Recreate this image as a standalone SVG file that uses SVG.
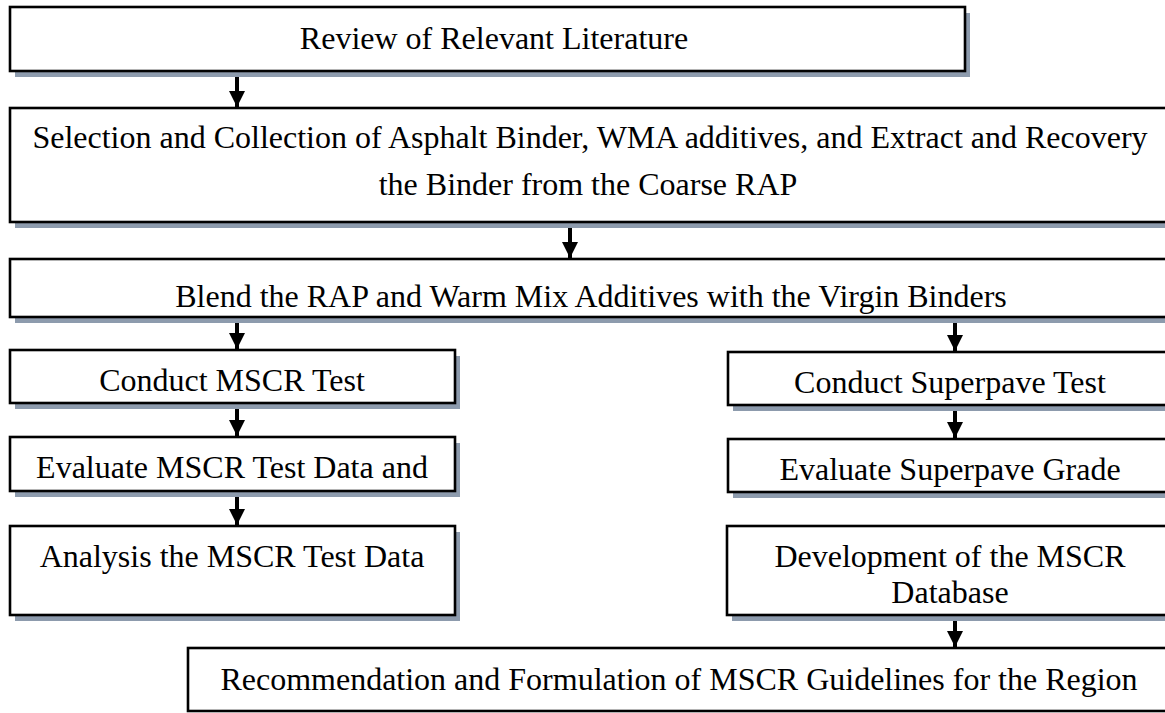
<svg xmlns="http://www.w3.org/2000/svg" width="1165" height="713" viewBox="0 0 1165 713">
  <defs>
    <style>
      .shadow { fill: #8d9bad; }
      .box { fill: #ffffff; stroke: #000000; stroke-width: 2.6; }
      .label { font-family: 'Liberation Serif', 'Times New Roman', Times, serif; font-size: 32px; fill: #000000; text-anchor: middle; }
      .link { stroke: #000000; stroke-width: 4; fill: none; marker-end: url(#arrowhead); }
    </style>
    <marker id="arrowhead" markerUnits="userSpaceOnUse" markerWidth="16" markerHeight="16" viewBox="0 0 16 16" refX="16" refY="8" orient="auto">
      <path d="M0,0 L16,8 L0,16 Z" fill="#000000"/>
    </marker>
  </defs>

  <rect width="1165" height="713" fill="#ffffff"/>

  <!-- Connectors -->
  <g id="connectors">
    <line class="link" x1="237" y1="72" x2="237" y2="107"/>
    <line class="link" x1="570" y1="223" x2="570" y2="258"/>
    <line class="link" x1="237" y1="318" x2="237" y2="349"/>
    <line class="link" x1="955" y1="318" x2="955" y2="351"/>
    <line class="link" x1="237" y1="404" x2="237" y2="436"/>
    <line class="link" x1="955" y1="406" x2="955" y2="438"/>
    <line class="link" x1="237" y1="492" x2="237" y2="525"/>
    <line class="link" x1="955" y1="616" x2="955" y2="647"/>
  </g>

  <g font-family="Liberation Serif, serif">
  <g id="review">
    <rect class="shadow" x="15" y="13" width="955" height="64"/>
    <rect class="box" x="10" y="7" width="955" height="64"/>
    <text class="label" x="494" y="49">Review of Relevant Literature</text>
  </g>

  <g id="selection">
    <rect class="shadow" x="15" y="114" width="1165" height="114"/>
    <rect class="box" x="10" y="108" width="1165" height="114"/>
    <text class="label" x="590" y="148">Selection and Collection of Asphalt Binder, WMA additives, and Extract and Recovery</text>
    <text class="label" x="588" y="195">the Binder from the Coarse RAP</text>
  </g>

  <g id="blend">
    <rect class="shadow" x="15" y="265" width="1165" height="58"/>
    <rect class="box" x="10" y="259" width="1165" height="58"/>
    <text class="label" x="591" y="307">Blend the RAP and Warm Mix Additives with the Virgin Binders</text>
  </g>

  <g id="mscr-test">
    <rect class="shadow" x="15" y="356" width="445" height="53"/>
    <rect class="box" x="10" y="350" width="445" height="53"/>
    <text class="label" x="232" y="391">Conduct MSCR Test</text>
  </g>

  <g id="superpave-test">
    <rect class="shadow" x="733" y="358" width="447" height="53"/>
    <rect class="box" x="728" y="352" width="447" height="53"/>
    <text class="label" x="950" y="393">Conduct Superpave Test</text>
  </g>

  <g id="evaluate-mscr">
    <rect class="shadow" x="15" y="443" width="445" height="54"/>
    <rect class="box" x="10" y="437" width="445" height="54"/>
    <text class="label" x="232" y="478">Evaluate MSCR Test Data and</text>
  </g>

  <g id="evaluate-superpave">
    <rect class="shadow" x="733" y="445" width="447" height="53"/>
    <rect class="box" x="728" y="439" width="447" height="53"/>
    <text class="label" x="950" y="480">Evaluate Superpave Grade</text>
  </g>

  <g id="analysis">
    <rect class="shadow" x="15" y="532" width="445" height="89"/>
    <rect class="box" x="10" y="526" width="445" height="89"/>
    <text class="label" x="232" y="567">Analysis the MSCR Test Data</text>
  </g>

  <g id="database">
    <rect class="shadow" x="732" y="532" width="448" height="89"/>
    <rect class="box" x="727" y="526" width="448" height="89"/>
    <text class="label" x="950" y="567">Development of the MSCR</text>
    <text class="label" x="950" y="603">Database</text>
  </g>

  <g id="recommendation">
    <rect class="box" x="188" y="648" width="987" height="63"/>
    <text class="label" x="679" y="690">Recommendation and Formulation of MSCR Guidelines for the Region</text>
  </g>
  </g>
</svg>
